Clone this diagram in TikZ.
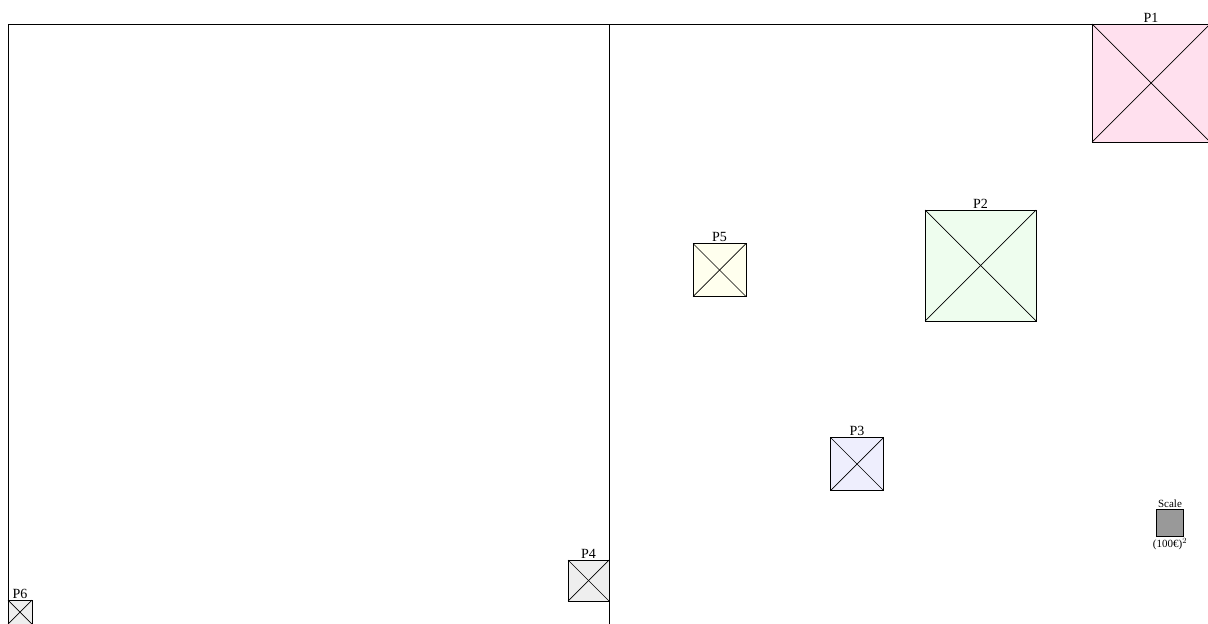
\documentclass[tikz,border=0pt]{standalone}
\usepackage{fontspec}
\setmainfont{Liberation Serif}
\begin{document}
\begin{tikzpicture}[x=1pt,y=-1pt,
  plot/.style={draw=black, line width=0.9pt, inner sep=0pt, outer sep=0pt, minimum size=#1},
  lbl/.style={font=\fontsize{14}{15}\selectfont, inner sep=1.2pt, anchor=south},
  small/.style={font=\fontsize{11}{12}\selectfont, inner sep=1.5pt}]
\useasboundingbox (0,0) rectangle (1208,624);
\definecolor{cpink}{HTML}{FFE0EE}
\definecolor{cgreen}{HTML}{EEFDEE}
\definecolor{cyellow}{HTML}{FFFFEE}
\definecolor{clav}{HTML}{EEEEFD}
\definecolor{cgray}{HTML}{EEEEEE}
\definecolor{cscale}{HTML}{999999}
% frame
\coordinate (tl) at (8,24);
\coordinate (tr) at (1212,24);
\coordinate (bl) at (8,628);
\coordinate (mt) at (609,24);
\coordinate (mb) at (609,628);
\draw[line width=0.9pt] (bl) -- (tl) -- (tr);
\draw[line width=0.9pt] (mt) -- (mb);
% plots
\node[plot=118pt, fill=cpink] (p1) at (1151,83) {};
\node[plot=111pt, fill=cgreen] (p2) at (980.5,265.5) {};
\node[plot=53pt, fill=cyellow] (p5) at (719.5,270) {};
\node[plot=53pt, fill=clav] (p3) at (857,464) {};
\node[plot=41pt, fill=cgray] (p4) at (588.5,580.5) {};
\node[plot=24pt, fill=cgray] (p6) at (20,612) {};
\foreach \n in {p1,p2,p5,p3,p4,p6}{
  \draw[line width=0.7pt] (\n.north west) -- (\n.south east);
  \draw[line width=0.7pt] (\n.north east) -- (\n.south west);
}
\node[lbl] (l1) at (p1.north) {P1};
\node[lbl] (l2) at (p2.north) {P2};
\node[lbl] (l5) at (p5.north) {P5};
\node[lbl] (l3) at (p3.north) {P3};
\node[lbl] (l4) at (p4.north) {P4};
\node[lbl] (l6) at (p6.north) {P6};
% scale
\node[plot=27pt, fill=cscale] (sc) at (1170,523) {};
\node[small, anchor=south] (sct) at (sc.north) {Scale};
\node[small, anchor=north] (scb) at (sc.south) {(100€)$^2$};
\end{tikzpicture}
\end{document}
